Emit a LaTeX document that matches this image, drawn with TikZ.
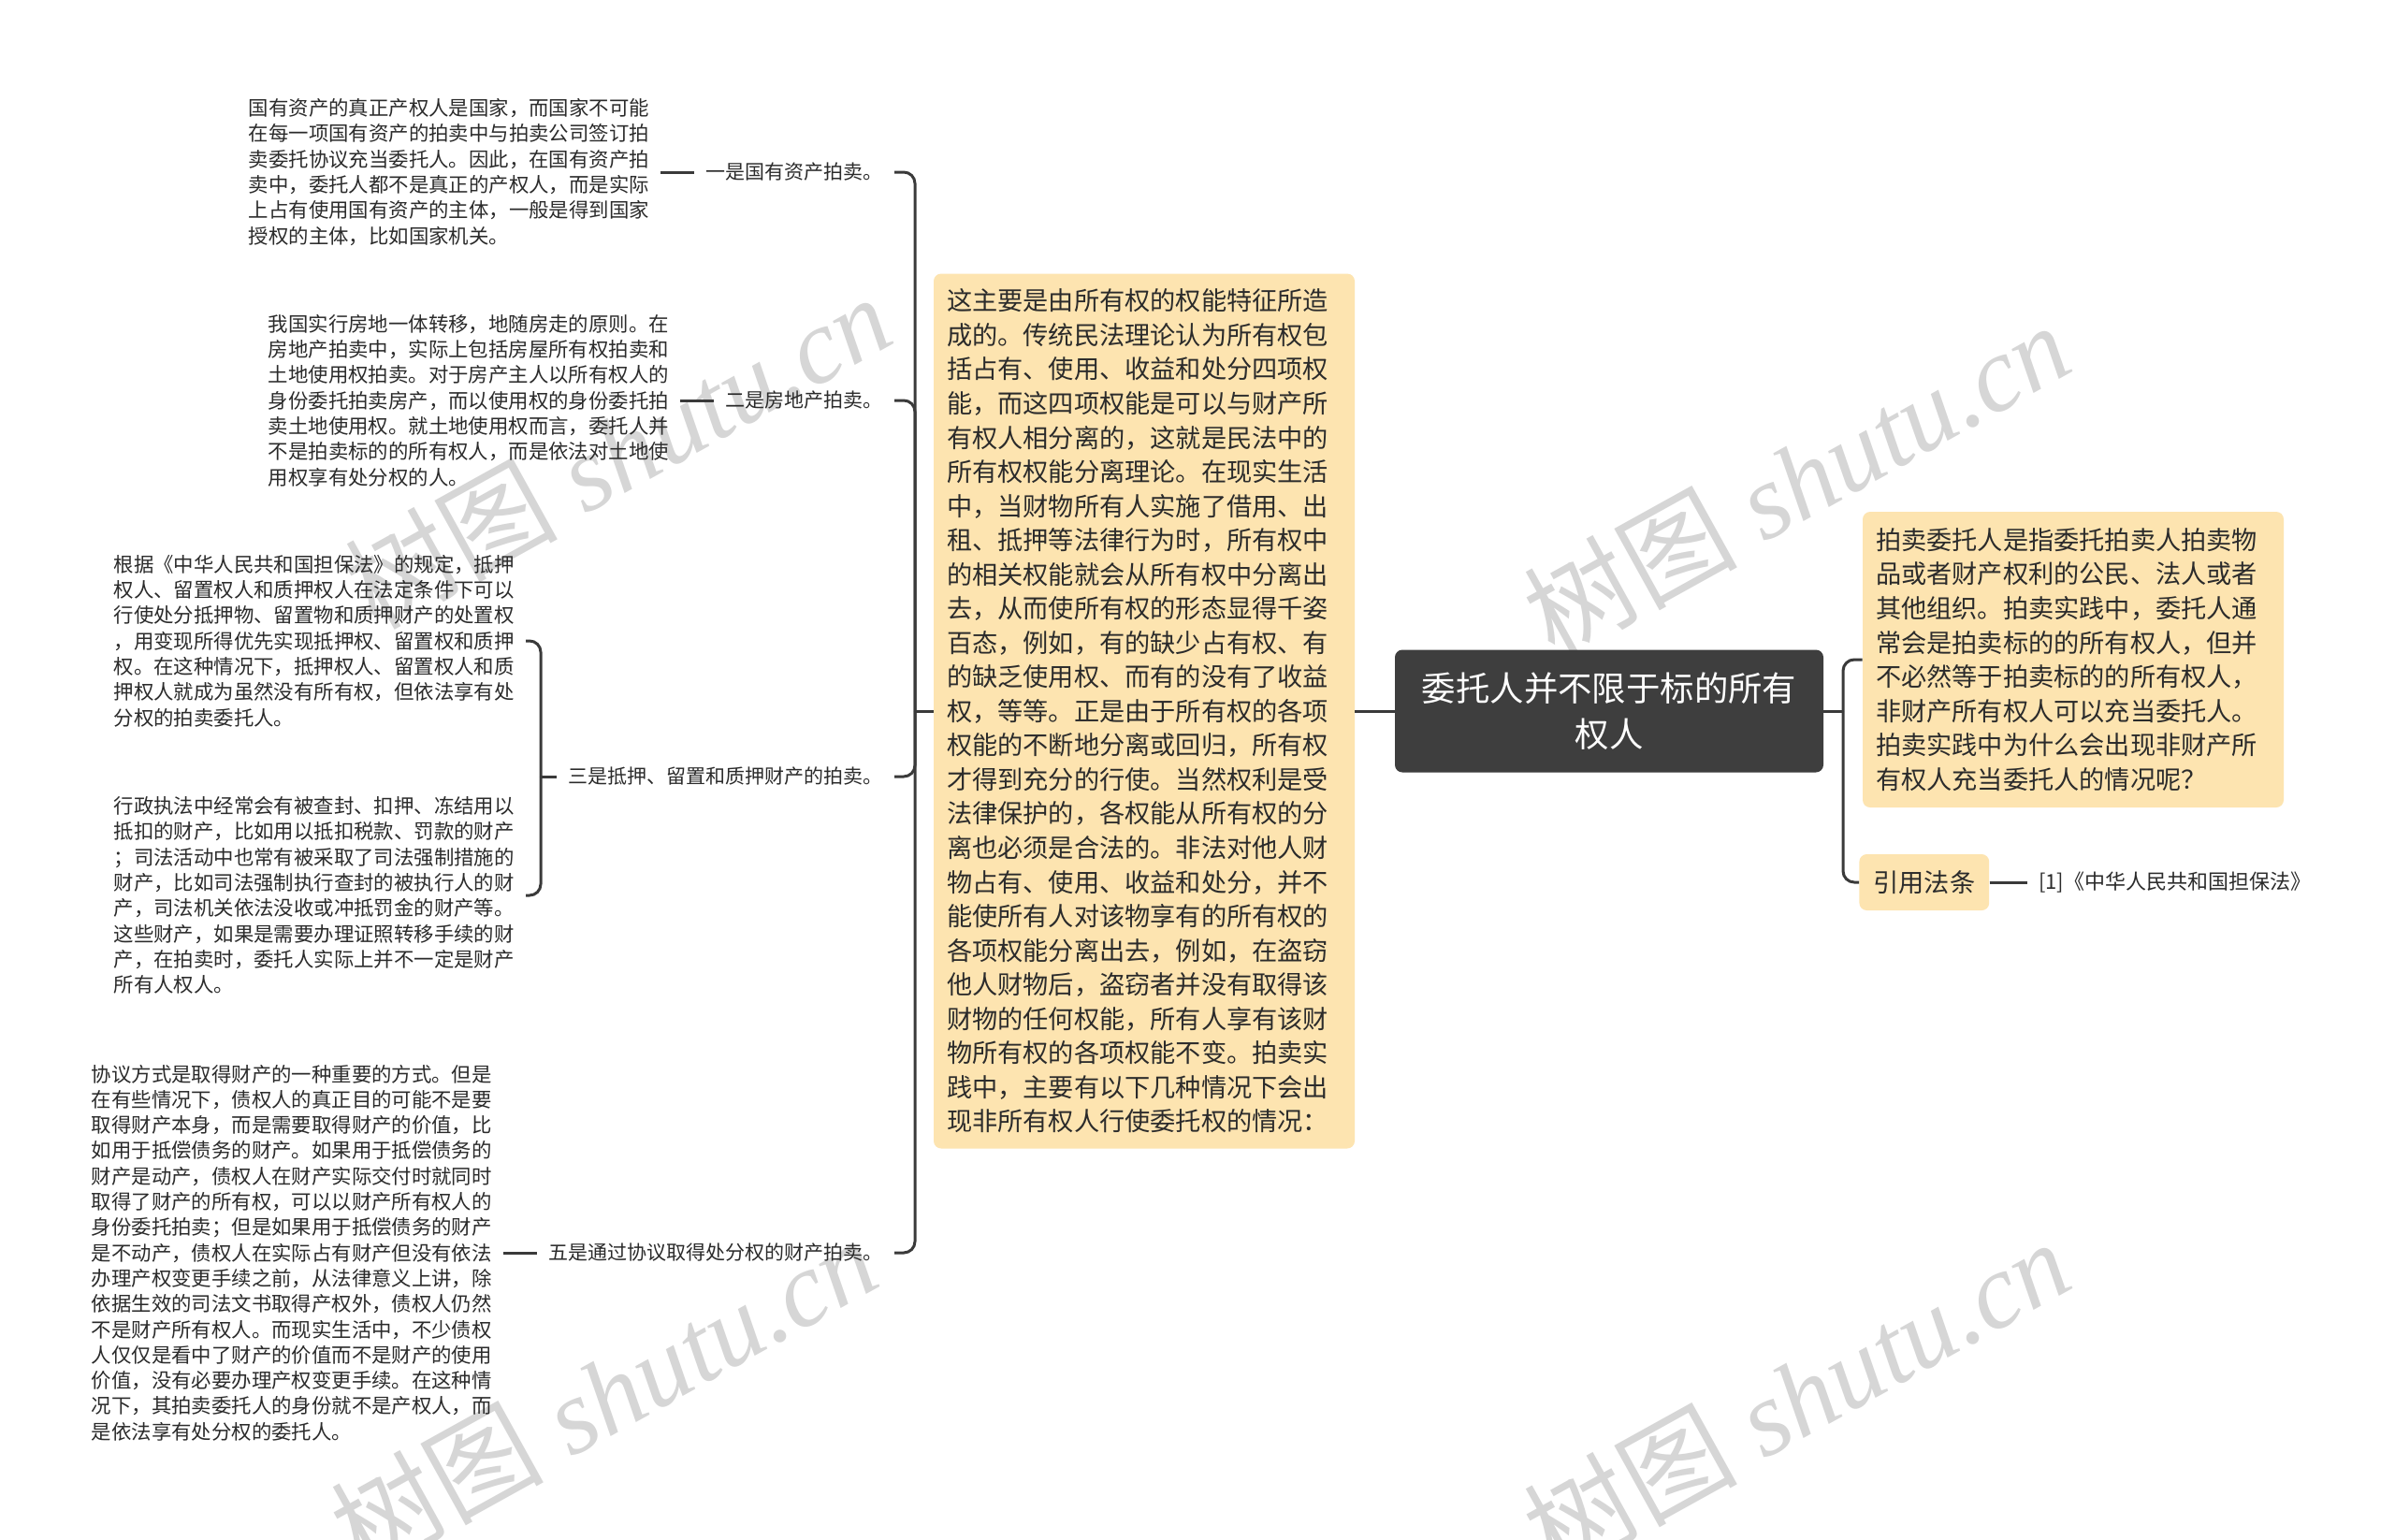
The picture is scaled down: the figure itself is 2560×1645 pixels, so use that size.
\documentclass[tikz,border=0pt]{standalone}
\usepackage{fontspec}
\setmainfont{Noto Sans CJK SC}
\newfontfamily\wmfont{Liberation Serif}
\usetikzlibrary{positioning}

\definecolor{boxfill}{HTML}{FDE4B0}
\definecolor{rootfill}{HTML}{3E3E3E}
\definecolor{linecol}{HTML}{3A3A3A}
\definecolor{txtcol}{HTML}{2B2B2B}

\begin{document}
\begin{tikzpicture}[x=0.5pt, y=-0.5pt,
  every node/.style = {inner sep=0pt},
  leaf/.style = {align=left, text=txtcol, inner xsep=6pt,
    font=\fontsize{10.7}{13.65}\selectfont},
  branch/.style = {anchor=east, text=txtcol, inner xsep=6pt,
    font=\fontsize{10.5}{13}\selectfont},
  note/.style = {fill=boxfill, rounded corners=4pt, align=left, text=txtcol,
    inner xsep=7pt, font=\fontsize{13.6}{18.27}\selectfont},
  topic/.style = {fill=rootfill, rounded corners=4pt, align=center, text=white,
    minimum width=229pt, minimum height=65.5pt,
    font=\fontsize{18.2}{24.5}\selectfont},
  link/.style = {draw=linecol, line width=1.5pt},
  hook/.style = {link, rounded corners=6pt},
  wmark/.style = {text=black!16, rotate=29,
    font=\fontsize{57}{57}\selectfont\wmfont\itshape}]

\path[fill=white, use as bounding box] (0,0) rectangle (2560,1645);

% watermarks
\node[wmark] (wm1) at (660,482) {{\normalfont 树图} shutu.cn};
\node[wmark] (wm2) at (1920,512) {{\normalfont 树图} shutu.cn};
\node[wmark] (wm3) at (645,1490) {{\normalfont 树图} shutu.cn};
\node[wmark] (wm4) at (1920,1492) {{\normalfont 树图} shutu.cn};

\node[topic] (root) at (1720,760) {委托人并不限于标的所有\\权人};

\node[note, text width=211pt, minimum height=467.5pt] (why) at (1223,760)
{这主要是由所有权的权能特征所造\\成的。传统民法理论认为所有权包\\括占有、使用、收益和处分四项权\\
能，而这四项权能是可以与财产所\\有权人相分离的，这就是民法中的\\所有权权能分离理论。在现实生活\\
中，当财物所有人实施了借用、出\\租、抵押等法律行为时，所有权中\\的相关权能就会从所有权中分离出\\
去，从而使所有权的形态显得千姿\\百态，例如，有的缺少占有权、有\\的缺乏使用权、而有的没有了收益\\
权，等等。正是由于所有权的各项\\权能的不断地分离或回归，所有权\\才得到充分的行使。当然权利是受\\
法律保护的，各权能从所有权的分\\离也必须是合法的。非法对他人财\\物占有、使用、收益和处分，并不\\
能使所有人对该物享有的所有权的\\各项权能分离出去，例如，在盗窃\\他人财物后，盗窃者并没有取得该\\
财物的任何权能，所有人享有该财\\物所有权的各项权能不变。拍卖实\\践中，主要有以下几种情况下会出\\
现非所有权人行使委托权的情况：};

% right side
\node[note, text width=211pt, minimum height=158pt] (def) at (2216,705)
{拍卖委托人是指委托拍卖人拍卖物\\品或者财产权利的公民、法人或者\\其他组织。拍卖实践中，委托人通\\
常会是拍卖标的的所有权人，但并\\不必然等于拍卖标的的所有权人，\\非财产所有权人可以充当委托人。\\
拍卖实践中为什么会出现非财产所\\有权人充当委托人的情况呢？};
\node[note, anchor=west, minimum height=30pt, inner xsep=7.5pt] (law) at (1987,943) {引用法条};
\node[branch, font=\fontsize{11}{13}\selectfont] (lawref) [right=20pt of law]
{[1]《中华人民共和国担保法》};

% left side
\node[branch] (b1) at (956,184) {一是国有资产拍卖。};
\node[branch] (b2) at (956,428) {二是房地产拍卖。};
\node[branch] (b3) at (956,830) {三是抵押、留置和质押财产的拍卖。};
\node[branch] (b5) at (956,1339) {五是通过协议取得处分权的财产拍卖。};

\node[leaf] (t1) [left=18pt of b1]
{国有资产的真正产权人是国家，而国家不可能\\在每一项国有资产的拍卖中与拍卖公司签订拍\\
卖委托协议充当委托人。因此，在国有资产拍\\卖中，委托人都不是真正的产权人，而是实际\\
上占有使用国有资产的主体，一般是得到国家\\授权的主体，比如国家机关。};
\node[leaf] (t2) [left=18pt of b2]
{我国实行房地一体转移，地随房走的原则。在\\房地产拍卖中，实际上包括房屋所有权拍卖和\\
土地使用权拍卖。对于房产主人以所有权人的\\身份委托拍卖房产，而以使用权的身份委托拍\\
卖土地使用权。就土地使用权而言，委托人并\\不是拍卖标的的所有权人，而是依法对土地使\\
用权享有处分权的人。};
\node[leaf, anchor=east] (t3a) at (562,685)
{根据《中华人民共和国担保法》的规定，抵押\\权人、留置权人和质押权人在法定条件下可以\\
行使处分抵押物、留置物和质押财产的处置权\\，用变现所得优先实现抵押权、留置权和质押\\
权。在这种情况下，抵押权人、留置权人和质\\押权人就成为虽然没有所有权，但依法享有处\\
分权的拍卖委托人。};
\node[leaf, anchor=east] (t3b) at (562,957)
{行政执法中经常会有被查封、扣押、冻结用以\\抵扣的财产，比如用以抵扣税款、罚款的财产\\
；司法活动中也常有被采取了司法强制措施的\\财产，比如司法强制执行查封的被执行人的财\\
产，司法机关依法没收或冲抵罚金的财产等。\\这些财产，如果是需要办理证照转移手续的财\\
产，在拍卖时，委托人实际上并不一定是财产\\所有人权人。};
\node[leaf] (t5) [left=18pt of b5]
{协议方式是取得财产的一种重要的方式。但是\\在有些情况下，债权人的真正目的可能不是要\\
取得财产本身，而是需要取得财产的价值，比\\如用于抵偿债务的财产。如果用于抵偿债务的\\
财产是动产，债权人在财产实际交付时就同时\\取得了财产的所有权，可以以财产所有权人的\\
身份委托拍卖；但是如果用于抵偿债务的财产\\是不动产，债权人在实际占有财产但没有依法\\
办理产权变更手续之前，从法律意义上讲，除\\依据生效的司法文书取得产权外，债权人仍然\\
不是财产所有权人。而现实生活中，不少债权\\人仅仅是看中了财产的价值而不是财产的使用\\
价值，没有必要办理产权变更手续。在这种情\\况下，其拍卖委托人的身份就不是产权人，而\\
是依法享有处分权的委托人。};

% bracket joints
\coordinate (jl) at (978,760);
\coordinate (j3) at (578,830);
\coordinate (jr) at (1970,760);

\draw[link] (why.east) -- (root.west);
\draw[link] (why.west) -- (jl);
\foreach \b in {b1,b2,b3,b5}
  \draw[hook] (jl) |- (\b.east);
\draw[link] (b3.west) -- (j3);
\draw[hook] (j3) |- (t3a.east);
\draw[hook] (j3) |- (t3b.east);
\draw[link] (t1.east) -- (b1.west);
\draw[link] (t2.east) -- (b2.west);
\draw[link] (t5.east) -- (b5.west);

\draw[link] (root.east) -- (jr);
\draw[hook] (jr) |- (def.west);
\draw[hook] (jr) |- (law.west);
\draw[link] (law.east) -- (lawref.west);
\end{tikzpicture}
\end{document}
